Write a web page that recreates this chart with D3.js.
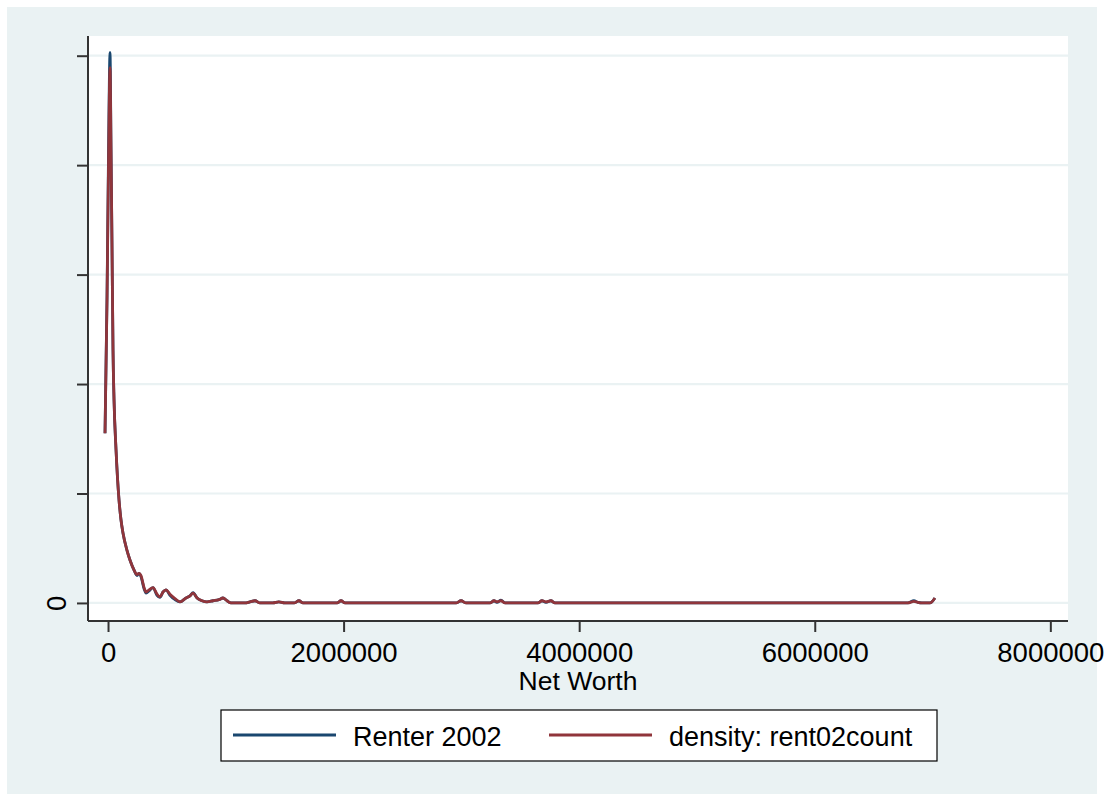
<!DOCTYPE html>
<html>
<head>
<meta charset="utf-8">
<script src="https://cdn.jsdelivr.net/npm/d3@7"></script>
<style>
  body { margin: 0; background: #fff; }
  text { font-family: "Liberation Sans", Arial, sans-serif; fill: #000; }
</style>
</head>
<body>
<svg id="chart" width="1110" height="794"></svg>
<script>
// net worth grid (dollars) shared by both curves
const netWorth = [
  -25500, -8500, 4000, 17000, 25500, 34000, 42400, 50900, 67900, 93400,
  110000, 127000, 161000, 187000, 221000, 246000, 263000, 280000, 306000, 323000,
  348000, 382000, 416000, 441000, 467000, 492000, 526000, 569000, 611000, 662000,
  696000, 722000, 756000, 798000, 840000, 891000, 942000, 976000, 1010000, 1044000,
  1163000, 1205000, 1248000, 1290000, 1400000, 1450000, 1500000, 1580000, 1621000, 1655000,
  1945000, 1978000, 2012000, 2955000, 2997000, 3040000, 3243000, 3277000, 3302000, 3336000,
  3370000, 3650000, 3684000, 3718000, 3760000, 3794000, 6790000, 6842000, 6876000, 6910000,
  6978000, 7020000
];
// density, in units of one y tick
const renter = [
  1.55, 2.80, 4.10, 5.03, 4.14, 3.23, 2.31, 1.86, 1.40, 0.94,
  0.76, 0.64, 0.48, 0.39, 0.30, 0.25, 0.27, 0.24, 0.13, 0.09,
  0.11, 0.14, 0.07, 0.05, 0.10, 0.12, 0.07, 0.03, 0.01, 0.045,
  0.065, 0.095, 0.045, 0.02, 0.01, 0.02, 0.03, 0.045, 0.02, 0.00,
  0.00, 0.01, 0.02, 0.00, 0.00, 0.01, 0.00, 0.00, 0.02, 0.00,
  0.00, 0.02, 0.00, 0.00, 0.02, 0.00, 0.00, 0.02, 0.005, 0.025,
  0.00, 0.00, 0.02, 0.005, 0.02, 0.00, 0.00, 0.02, 0.005, 0.00,
  0.00, 0.045
];
const density = [
  1.55, 2.77, 4.00, 4.89, 4.14, 3.23, 2.31, 1.86, 1.40, 0.94,
  0.76, 0.64, 0.48, 0.39, 0.30, 0.26, 0.27, 0.25, 0.14, 0.10,
  0.12, 0.14, 0.08, 0.055, 0.10, 0.12, 0.08, 0.04, 0.01, 0.045,
  0.065, 0.09, 0.045, 0.02, 0.01, 0.02, 0.03, 0.045, 0.02, 0.00,
  0.00, 0.01, 0.02, 0.00, 0.00, 0.01, 0.00, 0.00, 0.02, 0.00,
  0.00, 0.02, 0.00, 0.00, 0.02, 0.00, 0.00, 0.02, 0.01, 0.02,
  0.00, 0.00, 0.02, 0.01, 0.02, 0.00, 0.00, 0.015, 0.005, 0.00,
  0.00, 0.045
];
const xTicks = [0, 2000000, 4000000, 6000000, 8000000];
const yTicks = [0, 1, 2, 3, 4, 5];
const seriesNames = ['Renter 2002', 'density: rent02count'];
const seriesColors = ['#1a476f', '#90353b'];

const svg = d3.select('#chart');
const plot = { left: 88, right: 1068, top: 36, bottom: 621 };

svg.append('rect')
  .attr('x', 7).attr('y', 7).attr('width', 1090).attr('height', 787)
  .attr('fill', '#eaf2f3');
svg.append('rect')
  .attr('x', plot.left).attr('y', plot.top)
  .attr('width', plot.right - plot.left).attr('height', plot.bottom - plot.top)
  .attr('fill', '#fff');

const x = d3.scaleLinear().domain([-170000, 8150000]).range([plot.left, plot.right]);
const y = d3.scaleLinear().domain([-0.165, 5.18]).range([plot.bottom, plot.top]);

// grid
svg.append('g').selectAll('line')
  .data(yTicks)
  .enter()
  .append('line')
  .attr('x1', plot.left).attr('x2', plot.right)
  .attr('y1', d => y(d)).attr('y2', d => y(d))
  .attr('stroke', '#eaf2f3').attr('stroke-width', 2.2);

// curves
const line = d3.line().x(d => x(d[0])).y(d => y(d[1])).curve(d3.curveMonotoneX);
[renter, density].forEach((vals, i) => {
  svg.append('path')
    .datum(netWorth.map((n, j) => [n, vals[j]]))
    .attr('d', line)
    .attr('fill', 'none')
    .attr('stroke', seriesColors[i])
    .attr('stroke-width', 2.8)
    .attr('stroke-linejoin', 'round');
});

// axes
const yAxis = svg.append('g')
  .attr('transform', `translate(${plot.left},0)`)
  .call(d3.axisLeft(y).tickValues(yTicks).tickSize(11).tickFormat(d => (d === 0 ? '0' : '')));
const xAxis = svg.append('g')
  .attr('transform', `translate(0,${plot.bottom})`)
  .call(d3.axisBottom(x).tickValues(xTicks).tickSize(11).tickFormat(d3.format('d')));

[xAxis, yAxis].forEach(g => {
  g.select('.domain').attr('stroke', '#333').attr('stroke-width', 2);
  g.selectAll('.tick line').attr('stroke', '#333').attr('stroke-width', 2);
});
yAxis.select('.domain').attr('d', `M0,${plot.top}V${plot.bottom}`);
xAxis.select('.domain').attr('d', `M${plot.left},0H${plot.right}`);

xAxis.selectAll('.tick text')
  .attr('y', 41).attr('dy', 0)
  .style('font-size', '27.5px').style('font-family', '"Liberation Sans", Arial, sans-serif');
yAxis.selectAll('.tick text')
  .attr('x', 0).attr('dy', 0)
  .attr('transform', 'translate(-22,0) rotate(-90)')
  .attr('text-anchor', 'middle')
  .style('font-size', '27.5px').style('font-family', '"Liberation Sans", Arial, sans-serif');

svg.append('text')
  .attr('x', 578).attr('y', 690)
  .attr('text-anchor', 'middle')
  .style('font-size', '26.5px')
  .text('Net Worth');

// legend
const legend = svg.append('g');
legend.append('rect')
  .attr('x', 221).attr('y', 710).attr('width', 716).attr('height', 51)
  .attr('fill', '#fff').attr('stroke', '#000').attr('stroke-width', 1.2);
const legendX = [233, 549];
seriesNames.forEach((name, i) => {
  legend.append('line')
    .attr('x1', legendX[i]).attr('x2', legendX[i] + 103)
    .attr('y1', 735).attr('y2', 735)
    .attr('stroke', seriesColors[i]).attr('stroke-width', 2.8);
  legend.append('text')
    .attr('x', legendX[i] + 120).attr('y', 746)
    .style('font-size', '27px')
    .text(name);
});
</script>
</body>
</html>
